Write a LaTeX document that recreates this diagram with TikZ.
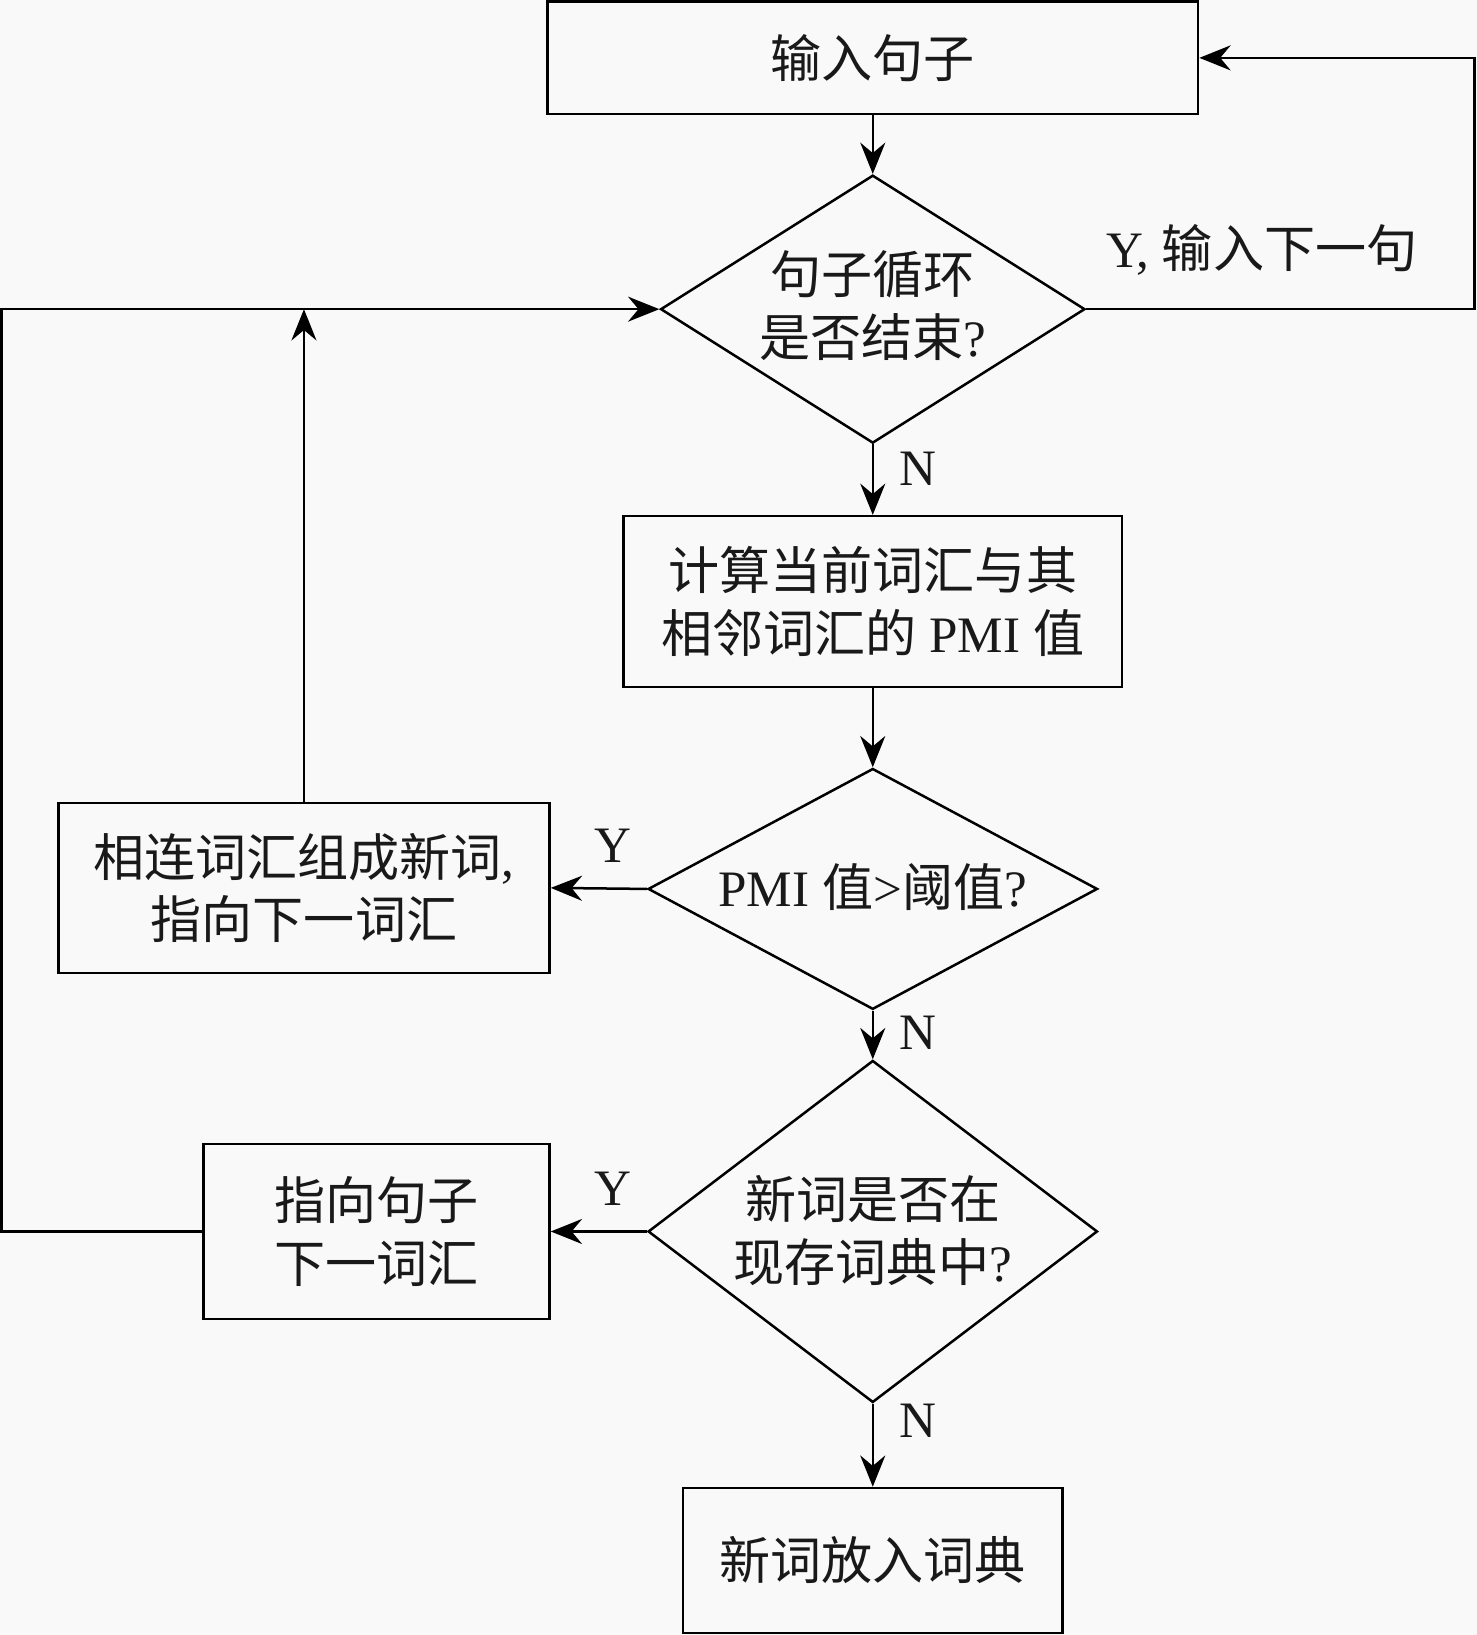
\documentclass[tikz,border=0pt]{standalone}
\usepackage{fontspec}
\setmainfont{Liberation Serif}
\newfontfamily\cjk{Noto Sans CJK SC}
\usetikzlibrary{shapes.geometric,arrows.meta}
\begin{document}
\begin{tikzpicture}[x=0.5pt,y=-0.5pt,
  every node/.style={font=\fontsize{24.5pt}{30pt}\selectfont, text=black!90},
  box/.style={draw, line width=1.2pt, rectangle, inner sep=0pt, align=center},
  dia/.style={draw, line width=1.2pt, diamond, inner sep=0pt, minimum width=#1},
  txt/.style={inner sep=0pt, align=center},
  conn/.style={line width=1.2pt, -{Stealth[length=15pt,width=12pt,inset=5pt]}},
  plainline/.style={line width=1.2pt}]
\fill[white!97.5!black] (0,0) rectangle (1416,1568);
\useasboundingbox (0,0) rectangle (1416,1568);

% boxes
\node[box, minimum width=312pt, minimum height=54pt] (b1) at (837,55.5) {\cjk 输入句子};
\node[box, minimum width=239pt, minimum height=82pt] (b2) at (837,577)
  {\cjk 计算当前词汇与其\\{\cjk 相邻词汇的} PMI {\cjk 值}};
\node[box, minimum width=235.5pt, minimum height=81.5pt] (b3) at (291.5,851.5)
  {{\cjk 相连词汇组成新词},\\{\cjk 指向下一词汇}};
\node[box, minimum width=166pt, minimum height=84pt] (b4) at (361,1181)
  {\cjk 指向句子\\{\cjk 下一词汇}};
\node[box, minimum width=182pt, minimum height=69.5pt] (b5) at (837,1496.5) {\cjk 新词放入词典};

% diamonds
\node[dia=203.5pt, minimum height=128.5pt] (d1) at (837,296.5) {};
\node[txt] (t1) at (837,293) {{\cjk 句子循环}\\{\cjk 是否结束}?};
\node[dia=215.5pt, minimum height=115.5pt] (d2) at (837,852.5) {};
\node[txt] (t2) at (837,851) {PMI {\cjk 值}>{\cjk 阈值}?};
\node[dia=215.5pt, minimum height=164pt] (d3) at (837,1181) {};
\node[txt] (t3) at (837,1180) {{\cjk 新词是否在}\\{\cjk 现存词典中}?};

% helper coordinates
\coordinate (rc) at (1414,0);
\coordinate (lc) at (1.5,0);

% connectors
\draw[conn] (b1.south) -- (d1.north);
\draw[conn] (d1.south) -- (b2.north);
\draw[conn] (b2.south) -- (d2.north);
\draw[conn] (d2.south) -- (d3.north);
\draw[conn] (d3.south) -- (b5.north);
\draw[conn] (d2.west) -- (b3.east);
\draw[conn] (d3.west) -- (b4.east);
\draw[conn] (d1.east) -- (d1.east -| rc) |- (b1.east);
\draw[conn] (b4.west) -- (b4.west -| lc) |- (d1.west);
\draw[conn] (b3.north) -- (b3.north |- d1.west);

% labels
\node[txt] (ly1) at (1210,240) {Y, {\cjk 输入下一句}};
\node[txt] (ln1) at (880,450) {N};
\node[txt] (ly2) at (588,811) {Y};
\node[txt] (ln2) at (880,990) {N};
\node[txt] (ly3) at (588,1140) {Y};
\node[txt] (ln3) at (880,1363) {N};
\end{tikzpicture}
\end{document}
